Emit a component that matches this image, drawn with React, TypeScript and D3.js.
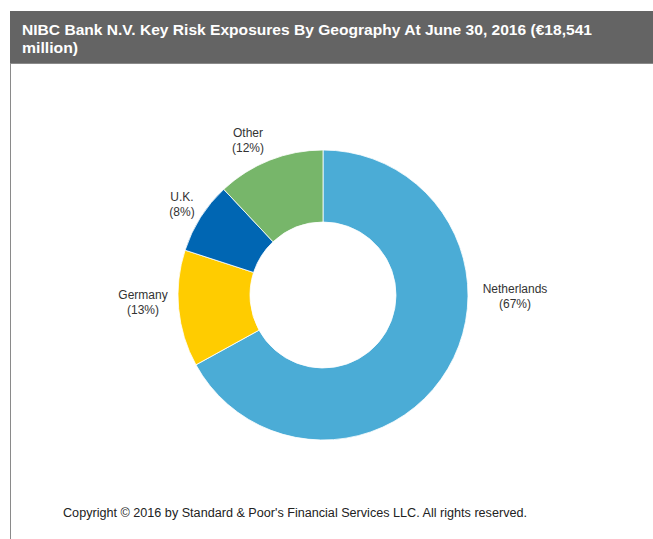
import React from "react";
import * as d3 from "d3";

const categories = ["Netherlands", "Germany", "U.K.", "Other"];
const values = [67, 13, 8, 12];
const colors = ["#4BACD6", "#FFCC00", "#0066B3", "#77B66A"];
const labelPos: [number, number][] = [
  [515, 289],
  [143, 295],
  [182, 197],
  [248, 133],
];

const W = 653;
const H = 539;
const cx = 323;
const cy = 295;
const outerR = 145;
const innerR = 73;

export default function App() {
  const pie = d3.pie<number>().value((d) => d).sort(null);
  const arcs = pie(values);
  const arc = d3.arc<d3.PieArcDatum<number>>().innerRadius(innerR).outerRadius(outerR);
  const font = "'Liberation Sans', Arial, sans-serif";
  return (
    <svg
      width={W}
      height={H}
      style={{ position: "absolute", left: 0, top: 0, background: "#fff" }}
    >
      <rect x={10} y={11} width={W - 10} height={52} fill="#646464" />
      <line x1={10} x2={W} y1={63.5} y2={63.5} stroke="#8a8a8a" strokeWidth={1} />
      <line x1={10.5} x2={10.5} y1={63} y2={H} stroke="#8a8a8a" strokeWidth={1} />
      <text
        x={22}
        y={35}
        fill="#fff"
        fontFamily={font}
        fontWeight="bold"
        fontSize={15}
        textLength={570}
        lengthAdjust="spacingAndGlyphs"
      >
        NIBC Bank N.V. Key Risk Exposures  By Geography At June 30, 2016 (€18,541
      </text>
      <text
        x={22}
        y={53}
        fill="#fff"
        fontFamily={font}
        fontWeight="bold"
        fontSize={15}
        textLength={56}
        lengthAdjust="spacingAndGlyphs"
      >
        million)
      </text>
      <g transform={`translate(${cx},${cy})`}>
        {arcs.map((a, i) => (
          <path key={i} d={arc(a) || ""} fill={colors[i]} stroke="#fff" strokeWidth={0.8} />
        ))}
      </g>
      {categories.map((c, i) => (
        <text
          key={c}
          x={labelPos[i][0]}
          y={labelPos[i][1]}
          textAnchor="middle"
          fontFamily={font}
          fontSize={12}
          fill="#333"
        >
          <tspan x={labelPos[i][0]} dy="0.35em">{c}</tspan>
          <tspan x={labelPos[i][0]} dy="15">({values[i]}%)</tspan>
        </text>
      ))}
      <text
        x={63}
        y={517}
        fontFamily={font}
        fontSize={12}
        fill="#222"
        textLength={464}
        lengthAdjust="spacingAndGlyphs"
      >
        Copyright © 2016 by Standard &amp; Poor's Financial Services LLC. All rights reserved.
      </text>
    </svg>
  );
}
